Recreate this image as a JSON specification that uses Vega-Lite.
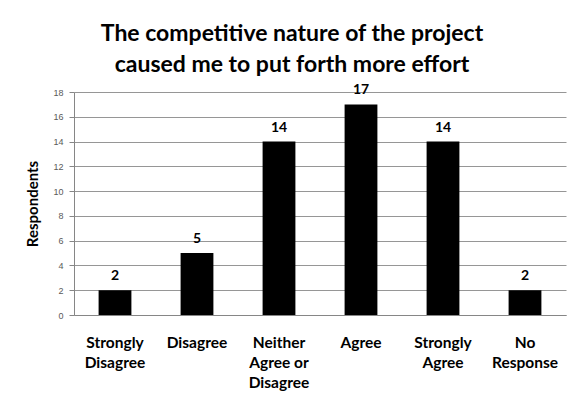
{
  "$schema": "https://vega.github.io/schema/vega-lite/v6.json",
  "width": 492,
  "height": 223,
  "autosize": {"type": "none"},
  "padding": {"left": 74, "top": 92, "right": 7, "bottom": 87},
  "background": "white",
  "title": {
    "text": ["The competitive nature of the project", "caused me to put forth more effort"],
    "font": "Lato",
    "fontSize": 23,
    "fontWeight": "bold",
    "color": "#000000",
    "lineHeight": 31,
    "anchor": "middle",
    "dx": -28,
    "offset": 6
  },
  "config": {
    "view": {"stroke": null},
    "axis": {"labelFont": "Liberation Sans", "titleFont": "Lato"}
  },
  "data": {
    "values": [
      {"response": "Strongly Disagree", "count": 2},
      {"response": "Disagree", "count": 5},
      {"response": "Neither Agree or Disagree", "count": 14},
      {"response": "Agree", "count": 17},
      {"response": "Strongly Agree", "count": 14},
      {"response": "No Response", "count": 2}
    ]
  },
  "encoding": {
    "x": {
      "field": "response",
      "type": "nominal",
      "sort": null,
      "scale": {"paddingInner": 0.6, "paddingOuter": 0.3},
      "axis": {
        "title": null,
        "labelAngle": 0,
        "labelFont": "Lato",
        "labelFontSize": 15.5,
        "labelFontWeight": "bold",
        "labelColor": "#000000",
        "labelLineHeight": 20,
        "labelPadding": 20,
        "labelBaseline": "top",
        "ticks": false,
        "domainColor": "#868686",
        "labelExpr": "datum.value == 'Strongly Disagree' ? ['Strongly','Disagree'] : datum.value == 'Neither Agree or Disagree' ? ['Neither','Agree or','Disagree'] : datum.value == 'Strongly Agree' ? ['Strongly','Agree'] : datum.value == 'No Response' ? ['No','Response'] : datum.value"
      }
    },
    "y": {
      "field": "count",
      "type": "quantitative",
      "scale": {"domain": [0, 18], "nice": false},
      "axis": {
        "title": "Respondents",
        "titleFontSize": 15,
        "titleFontWeight": "bold",
        "titleColor": "#000000",
        "titlePadding": 12,
        "values": [0, 2, 4, 6, 8, 10, 12, 14, 16, 18],
        "labelFontSize": 9,
        "labelColor": "#595959",
        "labelPadding": 6,
        "tickSize": 5,
        "tickColor": "#868686",
        "domainColor": "#868686",
        "gridColor": "#969696",
        "grid": true
      }
    }
  },
  "layer": [
    {"mark": {"type": "bar", "color": "#000000"}},
    {
      "mark": {"type": "text", "baseline": "bottom", "dy": -7, "font": "Lato", "fontSize": 14, "fontWeight": "bold", "color": "#000000"},
      "encoding": {"text": {"field": "count", "type": "quantitative"}}
    }
  ]
}
